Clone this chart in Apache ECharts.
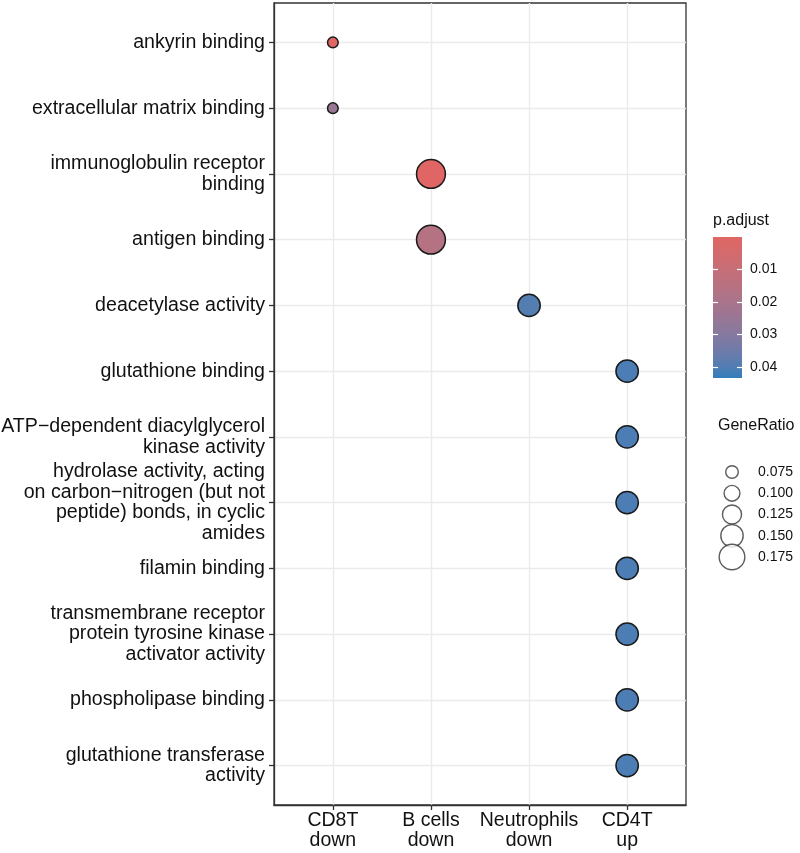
<!DOCTYPE html>
<html>
<head>
<meta charset="utf-8">
<script src="https://cdn.jsdelivr.net/npm/echarts@6/dist/echarts.min.js"></script>
<style>
	html, body { margin: 0; padding: 0; background: #fff; }
	#container { width: 800px; height: 853px; }
</style>
</head>
<body>
<div id="container"></div>
<script>
(function(){

	// GO terms, top to bottom
	var terms = [
		"ankyrin binding",
		"extracellular matrix binding",
		"immunoglobulin receptor\nbinding",
		"antigen binding",
		"deacetylase activity",
		"glutathione binding",
		"ATP\u2212dependent diacylglycerol\nkinase activity",
		"hydrolase activity, acting\non carbon\u2212nitrogen (but not\npeptide) bonds, in cyclic\namides",
		"filamin binding",
		"transmembrane receptor\nprotein tyrosine kinase\nactivator activity",
		"phospholipase binding",
		"glutathione transferase\nactivity"
	];

	var groups = [ "CD8T\ndown", "B cells\ndown", "Neutrophils\ndown", "CD4T\nup" ];

	// which group each term belongs to (index into groups)
	var termGroup = [ 0, 0, 1, 1, 2, 3, 3, 3, 3, 3, 3, 3 ];
	var pAdjust   = [ 0.0004, 0.025, 0.0003, 0.016, 0.0395, 0.0405, 0.0405, 0.0405, 0.0405, 0.0405, 0.0405, 0.0405 ];
	var geneRatio = [ 0.06, 0.06, 0.2, 0.2, 0.15, 0.15, 0.15, 0.15, 0.15, 0.15, 0.15, 0.15 ];

	var pTicks = [ 0.01, 0.02, 0.03, 0.04 ];
	var ratioTicks = [ 0.075, 0.100, 0.125, 0.150, 0.175 ];

	var pMin = 0, pMax = 0.0434;
	var LOW_COLOR = "#e06663", HIGH_COLOR = "#327eba";

	// ---- colour interpolation in Lab (like ggplot) ----
	var toLin = function( c ){ c /= 255; return c <= 0.04045 ? c / 12.92 : Math.pow( ( c + 0.055 ) / 1.055, 2.4 ); };
	var fromLin = function( c ){ c = c <= 0.0031308 ? 12.92 * c : 1.055 * Math.pow( c, 1 / 2.4 ) - 0.055; return Math.max( 0, Math.min( 255, Math.round( c * 255 ) ) ); };
	var Xn = 0.95047, Yn = 1, Zn = 1.08883;
	var f = function( t ){ return t > 0.008856 ? Math.cbrt( t ) : 7.787 * t + 16 / 116; };
	var fi = function( t ){ return t > 0.206893 ? t * t * t : ( t - 16 / 116 ) / 7.787; };

	var hexToLab = function( hex ){
		var r = toLin( parseInt( hex.substr( 1, 2 ), 16 ) ), g = toLin( parseInt( hex.substr( 3, 2 ), 16 ) ), b = toLin( parseInt( hex.substr( 5, 2 ), 16 ) );
		var x = ( 0.4124 * r + 0.3576 * g + 0.1805 * b ) / Xn;
		var y = ( 0.2126 * r + 0.7152 * g + 0.0722 * b ) / Yn;
		var z = ( 0.0193 * r + 0.1192 * g + 0.9505 * b ) / Zn;
		return [ 116 * f( y ) - 16, 500 * ( f( x ) - f( y ) ), 200 * ( f( y ) - f( z ) ) ];
	};
	var labToHex = function( lab ){
		var fy = ( lab[0] + 16 ) / 116, fx = fy + lab[1] / 500, fz = fy - lab[2] / 200;
		var x = fi( fx ) * Xn, y = fi( fy ) * Yn, z = fi( fz ) * Zn;
		var r = 3.2406 * x - 1.5372 * y - 0.4986 * z;
		var g = -0.9689 * x + 1.8758 * y + 0.0415 * z;
		var b = 0.0557 * x - 0.2040 * y + 1.0570 * z;
		return "#" + [ fromLin( r ), fromLin( g ), fromLin( b ) ].map( function( v ){ return ( "0" + v.toString( 16 ) ).substr( -2 ); } ).join( "" );
	};

	var labLo = hexToLab( LOW_COLOR ), labHi = hexToLab( HIGH_COLOR );
	var rampColors = [];
	var gradStops = [];
	var i = 0, N = 16;
	for(; i <= N; ++i ){
		var t = i / N;
		var c = labToHex( [ labLo[0] + ( labHi[0] - labLo[0] ) * t, labLo[1] + ( labHi[1] - labLo[1] ) * t, labLo[2] + ( labHi[2] - labLo[2] ) * t ] );
		rampColors.push( c );
		gradStops.push( { offset : t, color : c } );
	}

	// GeneRatio -> outer diameter in px
	var sizeOf = function( v ){ return 14 + 130 * ( v - 0.075 ) - 1.4; };

	var dots = [];
	for( i = 0; i < terms.length; ++i ){
		dots.push( [ termGroup[ i ], i, pAdjust[ i ], geneRatio[ i ] ] );
	}

	var idx = function( n ){ var a = []; for( var k = 0; k < n; ++k ) a.push( k ); return a; };

	var FONT = "Liberation Sans, Arial, sans-serif";
	var TXT = "#111";

	var myChart = echarts.init( document.getElementById( "container" ), null, { renderer : "canvas" } );

	var option = {
		animation : false,
		backgroundColor : "#fff",
		grid : [
			{ left : 274, top : 3, width : 412, height : 802, show : true, borderColor : "#333", borderWidth : 1.3, backgroundColor : "transparent", outerBoundsMode : "none", containLabel : false },
			// colourbar
			{ left : 713, top : 237, width : 29, height : 141, outerBoundsMode : "none" },
			// size legend
			{ left : 722, top : 472, width : 20, height : 85, outerBoundsMode : "none" }
		],
		xAxis : [
			{
				gridIndex : 0, type : "value", min : -0.6, max : groups.length - 0.4,
				axisLine : { show : true, onZero : false, lineStyle : { color : "#333", width : 1.3 } },
				axisTick : { show : true, customValues : idx( groups.length ), length : 5, lineStyle : { color : "#333", width : 1.3 } },
				axisLabel : { customValues : idx( groups.length ), formatter : function( v ){ return groups[ Math.round( v ) ]; },
					fontFamily : FONT, fontSize : 19.5, lineHeight : 20, color : TXT, margin : 6, hideOverlap : false },
				splitLine : { show : true, lineStyle : { color : "#ebebeb", width : 1.4 } }
			},
			{ gridIndex : 1, type : "category", data : [ "" ], show : false },
			{ gridIndex : 2, type : "value", min : 0, max : 1, show : false }
		],
		yAxis : [
			{
				gridIndex : 0, type : "value", min : -0.6, max : terms.length - 0.4, inverse : true,
				axisLine : { show : true, onZero : false, lineStyle : { color : "#333", width : 1.3 } },
				axisTick : { show : true, customValues : idx( terms.length ), length : 5, lineStyle : { color : "#333", width : 1.3 } },
				axisLabel : { customValues : idx( terms.length ), formatter : function( v ){ return terms[ Math.round( v ) ]; },
					fontFamily : FONT, fontSize : 19.6, lineHeight : 20.5, color : TXT, margin : 9, align : "right", hideOverlap : false },
				splitLine : { show : true, lineStyle : { color : "#ebebeb", width : 1.4 } }
			},
			{
				gridIndex : 1, type : "value", min : pMin, max : pMax, inverse : true, position : "right", z : 5,
				name : "p.adjust", nameLocation : "start", nameGap : 8,
				nameTextStyle : { fontFamily : FONT, fontSize : 16, color : TXT, align : "left", padding : [ 0, 0, 0, -29 ] },
				axisLine : { show : false },
				axisTick : { show : true, inside : true, length : 5, customValues : pTicks, lineStyle : { color : "#fff", width : 1.2 } },
				axisLabel : { customValues : pTicks, formatter : function( v ){ return v.toFixed( 2 ); }, fontFamily : FONT, fontSize : 14, color : TXT, margin : 8 },
				splitLine : { show : false }
			},
			{
				gridIndex : 1, type : "value", min : pMin, max : pMax, inverse : true, position : "left", z : 5,
				axisLine : { show : false },
				axisTick : { show : true, inside : true, length : 5, customValues : pTicks, lineStyle : { color : "#fff", width : 1.2 } },
				axisLabel : { show : false },
				splitLine : { show : false }
			},
			{
				gridIndex : 2, type : "value", min : ratioTicks[0], max : ratioTicks[ ratioTicks.length - 1 ], inverse : true, position : "right",
				name : "GeneRatio", nameLocation : "start", nameGap : 38,
				nameTextStyle : { fontFamily : FONT, fontSize : 16, color : TXT, align : "left", padding : [ 0, 0, 0, -4 ] },
				axisLine : { show : false },
				axisTick : { show : false, customValues : ratioTicks },
				axisLabel : { customValues : ratioTicks, formatter : function( v ){ return v.toFixed( 3 ); }, fontFamily : FONT, fontSize : 14, color : TXT, margin : 16 },
				splitLine : { show : false }
			}
		],
		visualMap : {
			show : false, type : "continuous", seriesIndex : 0, dimension : 2,
			min : pMin, max : pMax, inRange : { color : rampColors }
		},
		series : [
			{
				type : "scatter", xAxisIndex : 0, yAxisIndex : 0,
				data : dots,
				symbolSize : function( d ){ return sizeOf( d[3] ); },
				itemStyle : { borderColor : "#1a1a1a", borderWidth : 1.5, opacity : 1 },
				z : 3
			},
			{
				type : "bar", xAxisIndex : 1, yAxisIndex : 1,
				data : [ pMax ], barWidth : "100%",
				itemStyle : { color : new echarts.graphic.LinearGradient( 0, 0, 0, 1, gradStops ) },
				silent : true
			},
			{
				type : "scatter", xAxisIndex : 2, yAxisIndex : 3,
				data : ratioTicks.map( function( v ){ return [ 0.5, v ]; } ),
				symbolSize : function( d ){ return sizeOf( d[1] ); },
				itemStyle : { color : "#fff", borderColor : "#333", borderWidth : 1.4 },
				silent : true
			}
		]
	};

	myChart.setOption( option, true );

	window.addEventListener( "resize", function(){ myChart.resize(); } );
})();
</script>
</body>
</html>
